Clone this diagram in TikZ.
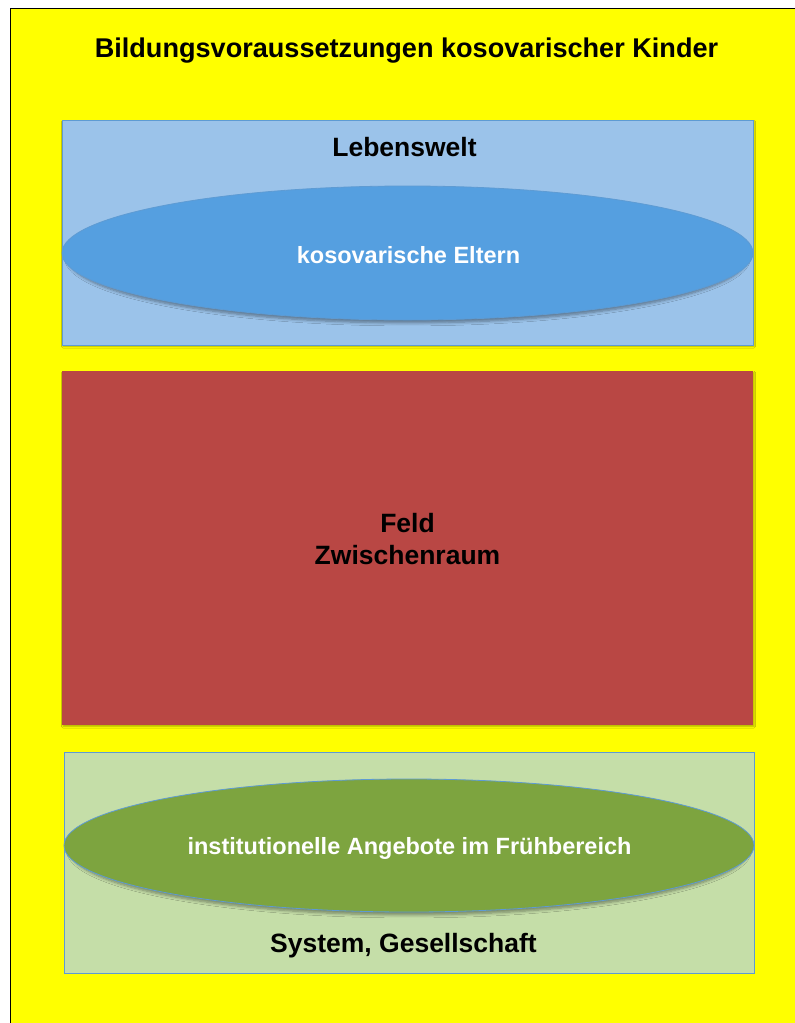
\documentclass[tikz,border=0pt]{standalone}
\usepackage{fontspec}
\setmainfont{Liberation Sans}
\usetikzlibrary{shapes.geometric,shadows.blur}
\definecolor{bgyellow}{HTML}{FFFF00}
\definecolor{lblue}{HTML}{9BC3EA}
\definecolor{mblue}{HTML}{559FE0}
\definecolor{edgeblue}{HTML}{5E9BD3}
\definecolor{redbox}{HTML}{B94744}
\definecolor{lgreen}{HTML}{C5DEA8}
\definecolor{olive}{HTML}{7DA43F}
\tikzset{
  panel/.style={draw=edgeblue, line width=0.8pt},
  oval/.style={draw=edgeblue, line width=0.8pt, blur shadow={shadow xshift=0pt, shadow yshift=-4pt, shadow scale=0.985, shadow blur steps=6, shadow blur radius=3pt, shadow opacity=40}},
  boxshadow/.style={blur shadow={shadow xshift=1pt, shadow yshift=-1.5pt, shadow blur steps=4, shadow blur radius=1.5pt, shadow opacity=30}},
  blacklabel/.style={anchor=base, font=\bfseries\fontsize{26.5}{30}\selectfont, text=black, inner sep=0pt},
  whitelabel/.style={anchor=base, font=\bfseries\fontsize{23.5}{28}\selectfont, text=white, inner sep=0pt}
}
\begin{document}
\begin{tikzpicture}[x=1pt,y=-1pt]
\useasboundingbox (0,0) rectangle (795,1023);
\fill[white] (0,0) rectangle (795,1023);
\fill[bgyellow] (10,8) rectangle (795,1023);
\draw[black, line width=1.6pt] (10.5,1023) -- (10.5,8.5) -- (795,8.5);
\node[blacklabel, font=\bfseries\fontsize{27.1}{30}\selectfont] (title) at (406.5,57) {Bildungsvoraussetzungen kosovarischer Kinder};
% Lebenswelt
\path[panel, fill=lblue, boxshadow] (62,120) rectangle (753,345);
\node[blacklabel] (leb) at (404.5,156) {Lebenswelt};
\path[oval, fill=mblue] (407.5,253) ellipse [x radius=345.5, y radius=67];
\node[whitelabel] (eltern) at (408.5,263) {kosovarische Eltern};
% Feld
\path[fill=redbox, boxshadow] (62,371) rectangle (753,725);
\node[blacklabel] (feld) at (407.5,532) {Feld};
\node[blacklabel] (zw) at (407.5,564.5) {Zwischenraum};
% System
\path[panel, fill=lgreen] (64,752) rectangle (754,973);
\path[oval, fill=olive] (409,845.5) ellipse [x radius=345, y radius=66.5];
\node[whitelabel] (inst) at (409.5,854) {institutionelle Angebote im Frühbereich};
\node[blacklabel] (sys) at (403.5,952) {System, Gesellschaft};
\end{tikzpicture}
\end{document}
